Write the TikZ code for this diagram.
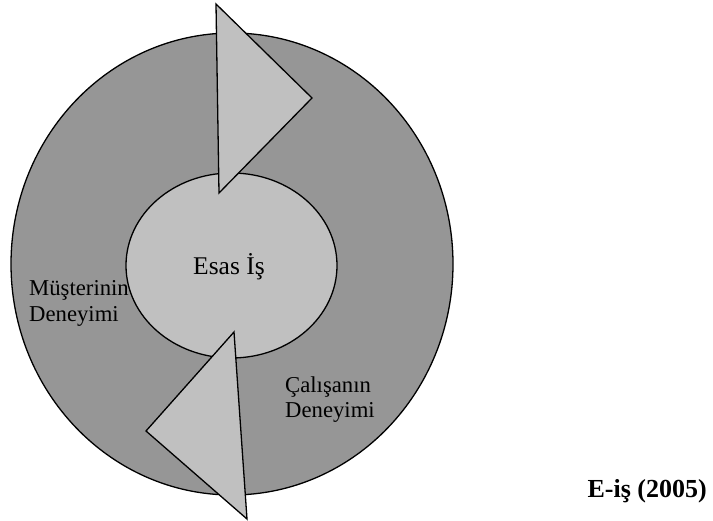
\documentclass[tikz,border=0pt]{standalone}
\usepackage{fontspec}
\setmainfont{Liberation Serif}
\usetikzlibrary{shapes.geometric}
\definecolor{outergray}{RGB}{150,150,150}
\definecolor{innergray}{RGB}{192,192,192}
\tikzset{
  ring/.style={ellipse, draw=black, line width=1.3pt, inner sep=0pt},
  tri/.style={draw=black, fill=innergray, line width=1.3pt, line join=miter},
  lbl/.style={anchor=base west, inner sep=0pt, font=\fontsize{22.7}{26}\selectfont},
}
\begin{document}
\begin{tikzpicture}[x=1pt,y=-1pt]
\useasboundingbox (0,0) rectangle (713,521);
\node[ring, fill=outergray, minimum width=442pt, minimum height=462pt] (outer) at (232,264) {};
\node[ring, fill=innergray, minimum width=211pt, minimum height=185pt] (inner) at (231.5,265.5) {};
% top triangle
\coordinate (t1) at (216,4);
\coordinate (t2) at (312,98);
\coordinate (t3) at (219,193);
\draw[tri] (t1) -- (t2) -- (t3) -- cycle;
% bottom triangle
\coordinate (b1) at (234,332);
\coordinate (b2) at (146,431);
\coordinate (b3) at (247,519);
\draw[tri] (b1) -- (b2) -- (b3) -- cycle;
% labels
\node[anchor=base west, inner sep=0pt, font=\fontsize{25.5}{30}\selectfont] (esas) at (193,275) {Esas İş};
\node[lbl] (m1) at (29,296) {Müşterinin};
\node[lbl] (m2) at (29,322) {Deneyimi};
\node[lbl] (c1) at (285,393) {Çalışanın};
\node[lbl] (c2) at (285,418) {Deneyimi};
\node[anchor=base east, inner sep=0pt, font=\bfseries\fontsize{26}{30}\selectfont] (src) at (707,497) {E-iş (2005)};
\end{tikzpicture}
\end{document}
